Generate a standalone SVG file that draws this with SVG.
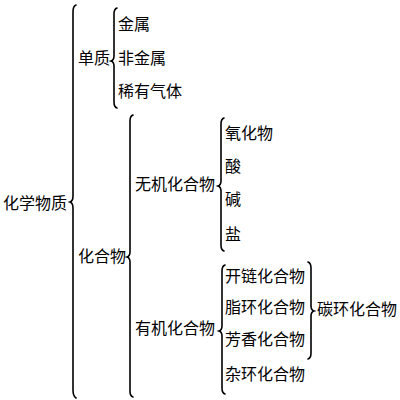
<svg xmlns="http://www.w3.org/2000/svg" width="400" height="400" viewBox="0 0 400 400">
<style>
text{font-family:"Noto Sans CJK SC","Noto Sans CJK JP",sans-serif;font-size:16px;fill:#000}
.b{fill:none;stroke:#000;stroke-width:1.6;stroke-linecap:round}
</style>
<rect width="400" height="400" fill="#fff"/>
<g id="connectors">
<path class="b" d="M76,5 Q73,6 73,12 L73,196 Q73,201 70,202 Q73,203 73,208 L73,390 Q73,396 76,398"/>
<path class="b" d="M117,8 Q114,9 114,14 L114,56 Q114,60 111,61 Q114,62 114,66 L114,102 Q114,107 117,108"/>
<path class="b" d="M133,115 Q130,116 130,121 L130,252 Q130,256 127,257 Q130,258 130,262 L130,391 Q130,396 133,397"/>
<path class="b" d="M224,118 Q221,119 221,124 L221,181 Q221,185 218,186 Q221,187 221,191 L221,245 Q221,250 224,251"/>
<path class="b" d="M225,265 Q222,266 222,271 L222,326 Q222,330 219,331 Q222,332 222,336 L222,388 Q222,393 225,394"/>
<path class="b" d="M308,262 Q311,263 311,268 L311,306 Q311,310 314,311 Q311,312 311,316 L311,353 Q311,358 308,359"/>
</g>
<g id="n-root"><text x="3" y="209">化学物质</text></g>
<g id="n-danzhi"><text x="78" y="64">单质</text></g>
<g id="n-jinshu"><text x="118" y="30">金属</text></g>
<g id="n-feijinshu"><text x="118" y="64">非金属</text></g>
<g id="n-xiyou"><text x="118" y="97">稀有气体</text></g>
<g id="n-huahewu"><text x="78" y="262">化合物</text></g>
<g id="n-wuji"><text x="135" y="190">无机化合物</text></g>
<g id="n-yanghuawu"><text x="225" y="139">氧化物</text></g>
<g id="n-suan"><text x="225" y="172">酸</text></g>
<g id="n-jian"><text x="225" y="205">碱</text></g>
<g id="n-yan"><text x="225" y="240">盐</text></g>
<g id="n-youji"><text x="135" y="334">有机化合物</text></g>
<g id="n-kailian"><text x="225" y="282">开链化合物</text></g>
<g id="n-zhihuan"><text x="225" y="313">脂环化合物</text></g>
<g id="n-fangxiang"><text x="225" y="345">芳香化合物</text></g>
<g id="n-zahuan"><text x="225" y="380">杂环化合物</text></g>
<g id="n-tanhuan"><text x="317" y="315">碳环化合物</text></g>
</svg>
